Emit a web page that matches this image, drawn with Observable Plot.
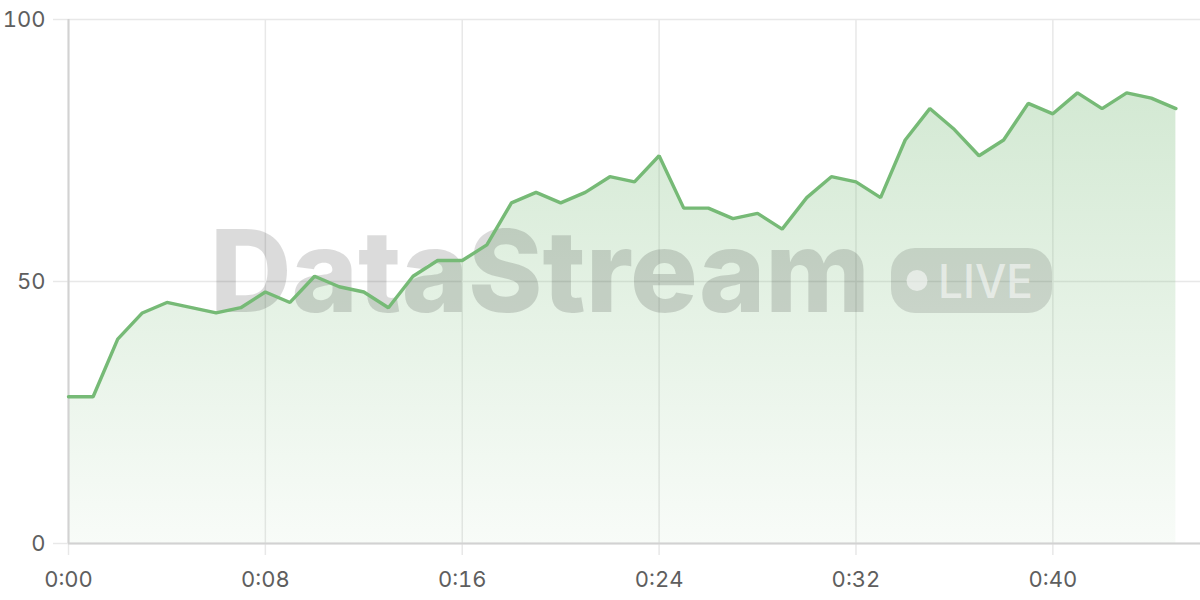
<!DOCTYPE html>
<html>
<head>
<meta charset="utf-8">
<script src="https://cdn.jsdelivr.net/npm/d3@7"></script>
<script src="https://cdn.jsdelivr.net/npm/@observablehq/plot@0.6"></script>
<style>
  html, body { margin: 0; padding: 0; background: #fff; }
  #wrap { position: relative; width: 1200px; height: 600px; }
</style>
</head>
<body>
<div id="wrap"></div>
<script>
// seconds elapsed
const seconds = [0,1,2,3,4,5,6,7,8,9,10,11,12,13,14,15,16,17,18,19,20,21,22,23,24,25,26,27,28,29,30,31,32,33,34,35,36,37,38,39,40,41,42,43,44,45];
const values = [28,28,39,44,46,45,44,45,48,46,51,49,48,45,51,54,54,57,65,67,65,67,70,69,74,64,64,62,63,60,66,70,69,66,77,83,79,74,77,84,82,86,83,86,85,83];
const xTicks = [0,8,16,24,32,40];
const yTicks = [0,50,100];
const watermarkText = "DataStream";
const badgeText = "LIVE";

const data = seconds.map((s, i) => ({t: s, v: values[i]}));
const fmt = d => `${Math.floor(d / 60)}:${String(d % 60).padStart(2, "0")}`;
const lineColor = "#76ba76";

const defs = () => {
  const g = d3.create("svg:defs");
  const lg = g.append("linearGradient").attr("id", "areaGrad")
    .attr("x1", 0).attr("y1", 0).attr("x2", 0).attr("y2", 1);
  lg.append("stop").attr("offset", "0%").attr("stop-color", lineColor).attr("stop-opacity", 0.32);
  lg.append("stop").attr("offset", "100%").attr("stop-color", lineColor).attr("stop-opacity", 0.05);
  return g.node();
};

// watermark drawn between the area and the line
const watermark = () => {
  const g = d3.create("svg:g").attr("pointer-events", "none").attr("text-anchor", "start");
  g.append("text")
    .attr("x", 210).attr("y", 312).attr("text-anchor", "start")
    .attr("textLength", 660).attr("lengthAdjust", "spacingAndGlyphs")
    .attr("font-family", "Inter, 'Noto Sans', sans-serif").attr("font-weight", 800)
    .attr("font-size", 114).attr("fill", "rgba(0,0,0,0.14)")
    .text(watermarkText);
  g.append("rect").attr("x", 891).attr("y", 248).attr("width", 161).attr("height", 65).attr("rx", 24)
    .attr("fill", "rgba(0,0,0,0.12)");
  g.append("circle").attr("cx", 917).attr("cy", 280.5).attr("r", 10.5).attr("fill", "rgba(255,255,255,0.55)");
  g.append("text").attr("x", 938).attr("y", 298).attr("text-anchor", "start")
    .attr("textLength", 95).attr("lengthAdjust", "spacingAndGlyphs")
    .attr("font-family", "Inter, 'Noto Sans', sans-serif").attr("font-weight", 500)
    .attr("font-size", 47).attr("fill", "rgba(255,255,255,0.55)")
    .text(badgeText);
  return g.node();
};

const chart = Plot.plot({
  width: 1200,
  height: 600,
  marginTop: 19,
  marginRight: 0,
  marginBottom: 57,
  marginLeft: 68,
  style: {fontFamily: "Inter, 'Noto Sans', sans-serif", fontSize: "22px", background: "white"},
  x: {domain: [0, 46]},
  y: {domain: [0, 100]},
  marks: [
    defs,
    Plot.gridY(yTicks, {stroke: "#e8e8e8", strokeOpacity: 1, strokeWidth: 1.5}),
    Plot.gridX(xTicks, {stroke: "#e8e8e8", strokeOpacity: 1, strokeWidth: 1.5}),
    Plot.areaY(data, {x: "t", y: "v", fill: "url(#areaGrad)"}),
    Plot.axisY(yTicks, {tickSize: 15, stroke: "#e8e8e8", strokeWidth: 1.5, tickPadding: 8, fill: "#5e5e5e", label: null}),
    Plot.axisX(xTicks, {tickSize: 12, stroke: "#e8e8e8", strokeWidth: 1.5, tickPadding: 16, fill: "#5e5e5e", tickFormat: fmt, label: null}),
    Plot.ruleX([0], {stroke: "#d2d2d2", strokeWidth: 2}),
    Plot.ruleY([0], {stroke: "#d2d2d2", strokeWidth: 2}),
    watermark,
    Plot.lineY(data, {x: "t", y: "v", stroke: lineColor, strokeWidth: 3.4, strokeLinejoin: "miter"})
  ]
});

document.getElementById("wrap").appendChild(chart);
</script>
</body>
</html>
